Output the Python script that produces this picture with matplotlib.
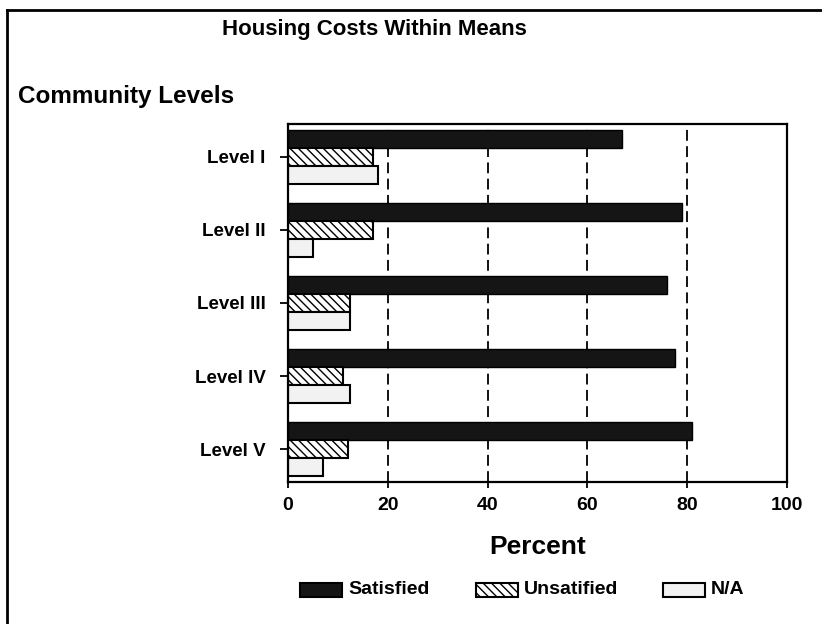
import numpy as np
import matplotlib
matplotlib.use("Agg")
import matplotlib.pyplot as plt
from matplotlib.patches import Rectangle
from matplotlib.lines import Line2D

levels = ["Level I", "Level II", "Level III", "Level IV", "Level V"]
satisfied = [67, 79, 76, 77.5, 81]
unsatisfied = [17, 17, 12.5, 11, 12]
not_applicable = [18, 5, 12.5, 12.5, 7]
x_ticks = [0, 20, 40, 60, 80, 100]

plt.rcParams["font.family"] = ["Liberation Sans", "DejaVu Sans"]
plt.rcParams["font.weight"] = "bold"
plt.rcParams["hatch.linewidth"] = 1.0

fig = plt.figure(figsize=(8.22, 6.24), dpi=100)
ax = fig.add_axes([0.3504, 0.2276, 0.6070, 0.5737])

y = np.arange(len(levels))
h = 0.245

for gx in x_ticks[1:-1]:
    ax.axvline(gx, color="black", lw=1.3, ls=(0, (6, 3)), zorder=0)

ax.barh(y - h, satisfied, height=h, color="#151515", edgecolor="black", lw=1, zorder=2)
ax.barh(y, unsatisfied, height=h, color="white", edgecolor="black", hatch="\\\\\\\\", lw=1.5, zorder=2)
ax.barh(y + h, not_applicable, height=h, color="#f2f2f2", edgecolor="black", lw=1.5, zorder=2)

ax.set_xlim(0, 100)
ax.set_ylim(4.45, -0.45)
ax.set_yticks(y)
ax.set_yticklabels(levels, fontsize=13.5, fontweight="bold")
ax.set_xticks(x_ticks)
ax.set_xticklabels([str(v) for v in x_ticks], fontsize=14, fontweight="bold")
ax.tick_params(axis="y", length=6, width=1.3, pad=10)
ax.tick_params(axis="x", length=4, width=1.3, pad=7)
for s in ax.spines.values():
    s.set_linewidth(1.6)
ax.set_xlabel("Percent", fontsize=19, fontweight="bold", labelpad=15)

fig.text(0.456, 0.952, "Housing Costs Within Means", ha="center", va="center",
         fontsize=16, fontweight="bold")
fig.text(0.022, 0.845, "Community Levels", ha="left", va="center",
         fontsize=17.5, fontweight="bold")

# legend keys drawn in figure pixels
W, H = 822, 624
keys = [
    (300, "Satisfied", dict(facecolor="#151515", edgecolor="black")),
    (476, "Unsatified", dict(facecolor="white", edgecolor="black", hatch="\\\\\\\\")),
    (663, "N/A", dict(facecolor="#f2f2f2", edgecolor="black")),
]
for kx, label, style in keys:
    fig.patches.append(Rectangle((kx / W, 1 - 597 / H), 42 / W, 14 / H,
                                 transform=fig.transFigure, lw=1.5, **style))
    fig.text((kx + 48) / W, 1 - 590 / H, label, ha="left", va="center",
             fontsize=14, fontweight="bold")

# page frame on the left and top
fig.add_artist(Line2D([7 / W, 7 / W], [0, 1 - 10 / H], transform=fig.transFigure,
                      color="black", lw=2))
fig.add_artist(Line2D([7 / W, 1], [1 - 10 / H, 1 - 10 / H], transform=fig.transFigure,
                      color="black", lw=2))

fig.savefig("out.png", dpi=100)
